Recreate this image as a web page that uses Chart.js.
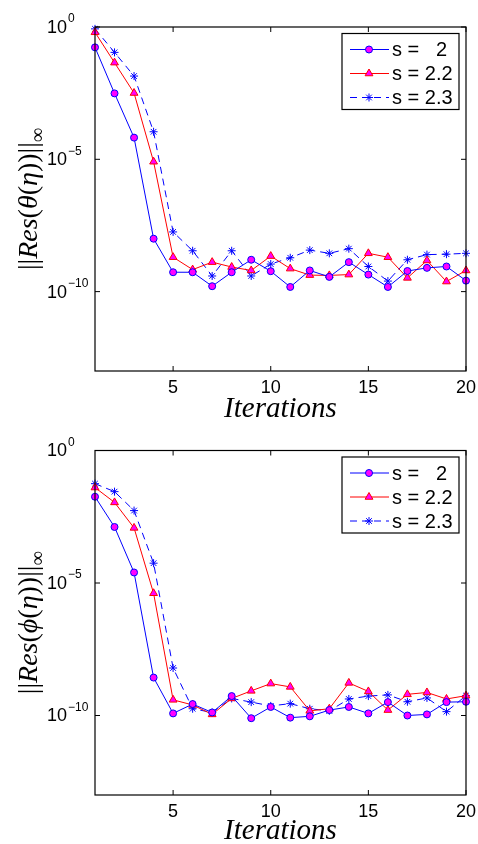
<!DOCTYPE html>
<html>
<head>
<meta charset="utf-8">
<script src="https://cdn.jsdelivr.net/npm/chart.js@4/dist/chart.umd.min.js"></script>
<style>
  html, body { margin: 0; padding: 0; background: #fff; width: 478px; height: 844px; overflow: hidden; }
  canvas { position: absolute; left: 0; }
  #theta { top: 0; }
  #phi { top: 422px; }
</style>
</head>
<body>
<canvas id="theta" width="478" height="440"></canvas>
<canvas id="phi" width="478" height="440"></canvas>
<script>
// values (log-scale residuals per iteration)
const iterations = [1, 2, 3, 4, 5, 6, 7, 8, 9, 10, 11, 12, 13, 14, 15, 16, 17, 18, 19, 20];
const xTicks = [5, 10, 15, 20];
const xTickLabels = ['5', '10', '15', '20'];
const yTicks = [1e-10, 1e-5, 1];
const yTickExponents = ['\u221210', '\u22125', '0'];
const seriesLabels = ['s =   2', 's = 2.2', 's = 2.3'];

// ||Res(theta(eta))||_inf
const theta_s20 = [1.7e-1, 3.1e-3, 6.6e-5, 1.0e-8, 5.4e-10, 5.4e-10, 1.6e-10, 5.4e-10, 1.6e-9, 5.9e-10,
                   1.5e-10, 6.3e-10, 3.6e-10, 1.3e-9, 4.4e-10, 1.5e-10, 6.0e-10, 7.9e-10, 8.9e-10, 2.6e-10];
const theta_s22 = [6.3e-1, 4.5e-2, 3.2e-3, 8.1e-6, 2.0e-9, 6.8e-10, 1.3e-9, 8.5e-10, 6.3e-10, 2.2e-9,
                   7.4e-10, 4.2e-10, 4.1e-10, 4.4e-10, 2.8e-9, 2.0e-9, 3.3e-10, 1.5e-9, 2.4e-10, 6.3e-10];
const theta_s23 = [8.5e-1, 1.1e-1, 1.4e-2, 1.1e-4, 1.8e-8, 3.5e-9, 3.9e-10, 3.5e-9, 3.9e-10, 1.1e-9,
                   1.9e-9, 3.7e-9, 2.8e-9, 4.2e-9, 8.9e-10, 2.5e-10, 1.6e-9, 2.5e-9, 2.6e-9, 2.8e-9];

// ||Res(phi(eta))||_inf
const phi_s20 = [1.8e-2, 1.3e-3, 2.5e-5, 2.7e-9, 1.2e-10, 2.7e-10, 1.3e-10, 5.4e-10, 7.9e-11, 2.1e-10,
                 8.3e-11, 9.3e-11, 1.6e-10, 2.1e-10, 1.2e-10, 3.2e-10, 1.0e-10, 1.1e-10, 3.2e-10, 3.3e-10];
const phi_s22 = [4.0e-2, 1.1e-2, 1.2e-3, 4.1e-6, 3.9e-10, 2.5e-10, 1.1e-10, 4.4e-10, 8.5e-10, 1.6e-9,
                 1.2e-9, 1.5e-10, 1.8e-10, 1.7e-9, 8.1e-10, 1.6e-10, 6.3e-10, 7.4e-10, 4.2e-10, 5.6e-10];
const phi_s23 = [5.6e-2, 2.8e-2, 5.4e-3, 5.6e-5, 6.2e-9, 1.8e-10, 1.3e-10, 4.4e-10, 3.2e-10, 2.3e-10,
                 2.8e-10, 1.8e-10, 1.5e-10, 4.2e-10, 5.4e-10, 6.0e-10, 3.3e-10, 4.6e-10, 1.4e-10, 5.6e-10];

const lineColors = ['#0000ff', '#ff0000', '#0000ff'];
const markerFill = ['#ff00ff', '#ff00ff', '#0000ff'];
const markerStyles = ['circle', 'triangle', 'star'];
const markerRadius = [3.5, 4.5, 4];
const lineDash = [[], [], [7, 5]];

// axes box, inside tick marks, tick labels, y title and the boxed legend
const framePlugin = {
  id: 'frame',
  afterDraw(chart, args, opts) {
    const ctx = chart.ctx;
    const a = chart.chartArea;
    const xs = chart.scales.x, ys = chart.scales.y;
    ctx.save();
    ctx.strokeStyle = '#000';
    ctx.lineWidth = 1.2;
    ctx.strokeRect(a.left, a.top, a.right - a.left, a.bottom - a.top);

    // tick marks pointing inwards on all four sides
    const tl = 5;
    ctx.lineWidth = 1;
    ctx.beginPath();
    xTicks.forEach(v => {
      const px = xs.getPixelForValue(v);
      ctx.moveTo(px, a.bottom); ctx.lineTo(px, a.bottom - tl);
      ctx.moveTo(px, a.top); ctx.lineTo(px, a.top + tl);
    });
    yTicks.forEach(v => {
      const py = ys.getPixelForValue(v);
      ctx.moveTo(a.left, py); ctx.lineTo(a.left + tl, py);
      ctx.moveTo(a.right, py); ctx.lineTo(a.right - tl, py);
    });
    ctx.stroke();

    // x tick labels
    ctx.fillStyle = '#000';
    ctx.font = '18px "Liberation Sans"';
    ctx.textAlign = 'center';
    ctx.textBaseline = 'middle';
    xTicks.forEach((v, i) => {
      ctx.fillText(xTickLabels[i], xs.getPixelForValue(v), a.bottom + 17);
    });

    // y tick labels as 10 with a raised exponent
    ctx.textAlign = 'left';
    yTicks.forEach((v, i) => {
      const py = ys.getPixelForValue(v);
      ctx.font = '18px "Liberation Sans"';
      const x0 = 47;
      ctx.fillText('10', x0, py + 1);
      const w = ctx.measureText('10').width;
      ctx.font = '12px "Liberation Sans"';
      ctx.fillText(yTickExponents[i], x0 + w + 1, py - 8);
    });

    // rotated y title with subscript infinity
    const parts = opts.yTitle;
    const fontFor = p => p[1] == 'i' ? 'italic 28px "Liberation Serif"'
                      : p[1] == 'sub' ? '20px "Liberation Serif"' : '28px "Liberation Serif"';
    let total = 0;
    parts.forEach(p => { ctx.font = fontFor(p); total += ctx.measureText(p[0]).width; });
    ctx.translate(37, (a.top + a.bottom) / 2);
    ctx.rotate(-Math.PI / 2);
    ctx.textBaseline = 'alphabetic';
    let cx = -total / 2;
    parts.forEach(p => {
      ctx.font = fontFor(p);
      ctx.fillText(p[0], cx, p[1] == 'sub' ? 7 : 0);
      cx += ctx.measureText(p[0]).width;
    });
    ctx.setTransform(1, 0, 0, 1, 0, 0);

    // legend box
    const bw = 117, bh = 76;
    const bx = a.right - 7 - bw, by = a.top + 6.5;
    ctx.fillStyle = '#fff';
    ctx.fillRect(bx, by, bw, bh);
    ctx.strokeStyle = '#000';
    ctx.lineWidth = 1.2;
    ctx.strokeRect(bx, by, bw, bh);
    chart.data.datasets.forEach((ds, k) => {
      const ry = by + 16 + k * 24;
      ctx.strokeStyle = ds.borderColor;
      ctx.lineWidth = ds.borderWidth;
      ctx.setLineDash(ds.borderDash);
      ctx.beginPath();
      ctx.moveTo(bx + 8, ry); ctx.lineTo(bx + 47, ry);
      ctx.stroke();
      ctx.setLineDash([]);
      ctx.fillStyle = ds.pointBackgroundColor;
      ctx.strokeStyle = ds.pointBorderColor;
      ctx.lineWidth = ds.pointBorderWidth;
      Chart.helpers.drawPoint(ctx, {pointStyle: ds.pointStyle, radius: ds.pointRadius, borderWidth: 1, rotation: 0}, bx + 27, ry);
      ctx.fillStyle = '#000';
      ctx.font = '20px "Liberation Sans"';
      ctx.textBaseline = 'middle';
      ctx.textAlign = 'left';
      ctx.fillText(ds.label, bx + 50, ry + 1);
    });
    ctx.restore();
  }
};

function makeChart(id, yTitle, series, topPad, axisH) {
  return new Chart(document.getElementById(id), {
    type: 'line',
    data: {
      datasets: seriesLabels.map((label, k) => ({
        label: label,
        data: iterations.map((it, i) => ({x: it, y: series[k][i]})),
        borderColor: lineColors[k],
        borderWidth: 1,
        borderDash: lineDash[k],
        pointStyle: markerStyles[k],
        pointRadius: markerRadius[k],
        pointBackgroundColor: markerFill[k],
        pointBorderColor: lineColors[k],
        pointBorderWidth: 1,
        tension: 0,
        clip: false,
      })),
    },
    options: {
      responsive: false,
      animation: false,
      devicePixelRatio: 1,
      layout: { padding: { left: 35, right: 12, top: topPad, bottom: 0 } },
      plugins: {
        legend: { display: false },
        tooltip: { enabled: false },
        frame: { yTitle: yTitle },
      },
      scales: {
        x: {
          type: 'linear',
          min: 1,
          max: 20,
          grid: { display: false },
          border: { display: false },
          afterBuildTicks: s => { s.ticks = xTicks.map(v => ({value: v})); },
          afterFit: s => { s.height = axisH; },
          ticks: { display: false },
          title: {
            display: true,
            text: 'Iterations',
            color: '#000',
            font: { family: 'Liberation Serif', style: 'italic', size: 29, lineHeight: 1 },
            padding: { top: 0, bottom: 16 },
          },
        },
        y: {
          type: 'logarithmic',
          min: 1e-13,
          max: 1,
          grid: { display: false },
          border: { display: false },
          ticks: { display: false },
          afterBuildTicks: s => { s.ticks = yTicks.map(v => ({value: v})); },
          afterFit: s => { s.width = 60; },
        },
      },
    },
    plugins: [framePlugin],
  });
}

makeChart('theta',
  [['||', 'n'], ['Res', 'i'], ['(', 'n'], ['\u03b8', 'i'], ['(', 'n'], ['\u03b7', 'i'], ['))||', 'n'], ['\u221e', 'sub']],
  [theta_s20, theta_s22, theta_s23], 27, 69);
makeChart('phi',
  [['||', 'n'], ['Res', 'i'], ['(', 'n'], ['\u03d5', 'i'], ['(', 'n'], ['\u03b7', 'i'], ['))||', 'n'], ['\u221e', 'sub']],
  [phi_s20, phi_s22, phi_s23], 28.5, 67);
</script>
</body>
</html>
